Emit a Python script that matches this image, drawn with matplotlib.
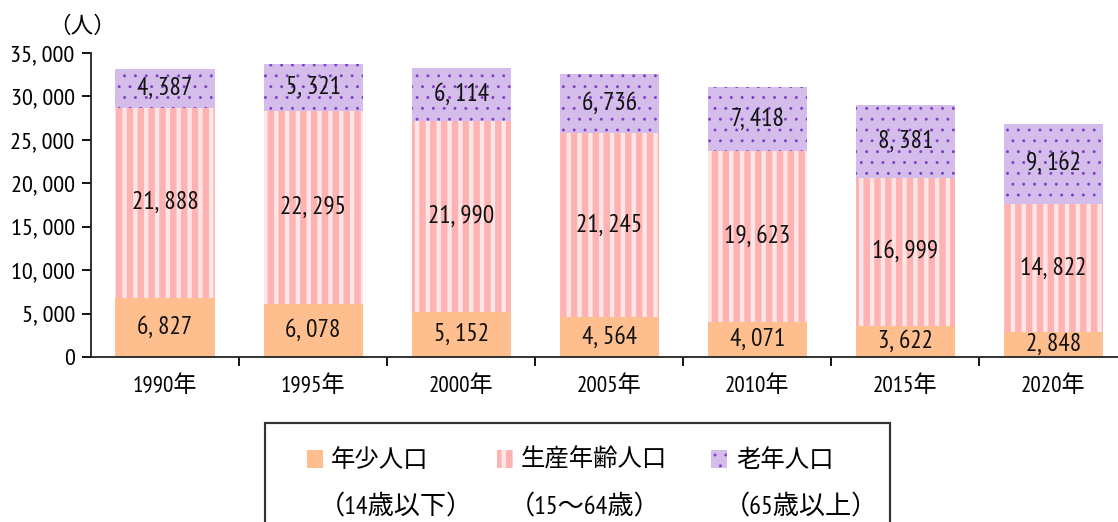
import matplotlib
matplotlib.use("Agg")
import matplotlib.pyplot as plt
from matplotlib.patches import Rectangle
import numpy as np

years = ["1990年", "1995年", "2000年", "2005年", "2010年", "2015年", "2020年"]
young = [6827, 6078, 5152, 4564, 4071, 3622, 2848]
working = [21888, 22295, 21990, 21245, 19623, 16999, 14822]
elderly = [4387, 5321, 6114, 6736, 7418, 8381, 9162]
series_names = ["年少人口", "生産年齢人口", "老年人口"]
series_notes = ["（14歳以下）", "（15～64歳）", "（65歳以上）"]
yticks = [0, 5000, 10000, 15000, 20000, 25000, 30000, 35000]

NUM_FONT = ["PT Sans Narrow", "Noto Sans CJK JP", "DejaVu Sans"]
CJK_FONT = ["Noto Sans CJK JP", "DejaVu Sans"]
plt.rcParams["font.family"] = NUM_FONT

W, H, DPI = 1118, 522, 130
fig = plt.figure(figsize=(W / DPI, H / DPI), dpi=DPI)

def fx(px):
    return px / W

def fy(py):
    return 1 - py / H

left, right, top, bottom = 91, 1127.5, 53, 357
ax = fig.add_axes([fx(left), fy(bottom), fx(right - left), (bottom - top) / H])

x = np.arange(len(years))
bw = 0.67
young_c = "#FFBE8E"
work_face = "#FFB2B2"
work_stripe = "#FFE6E6"
old_face = "#D4BDEA"
old_dot = "#7E3CC6"
STRIPE_LW = 2.4
DOT_LW = 0.4

bars1 = ax.bar(x, young, bw, color=young_c, linewidth=0)
with plt.rc_context({"hatch.linewidth": STRIPE_LW}):
    bars2 = ax.bar(x, working, bw, bottom=young, color=work_face,
                   edgecolor=work_stripe, hatch="||", linewidth=0)
base3 = [a + b for a, b in zip(young, working)]
with plt.rc_context({"hatch.linewidth": DOT_LW}):
    bars3 = ax.bar(x, elderly, bw, bottom=base3, color=old_face,
                   edgecolor=old_dot, hatch="..", linewidth=0)

def fmt(v):
    return f"{v:,}".replace(",", ",\u2009")

for cont, vals in ((bars1, young), (bars2, working), (bars3, elderly)):
    ax.bar_label(cont, labels=[fmt(v) for v in vals], label_type="center",
                 fontsize=14, color="#111111", family=NUM_FONT)

ax.set_xlim(-0.5, len(years) - 0.5)
ax.set_ylim(0, 35000)
ax.set_yticks(yticks)
ax.set_yticklabels([fmt(v) for v in yticks], fontsize=13.5, family=NUM_FONT)
ax.set_xticks(x)
ax.set_xticklabels(years, fontsize=12.8, family=NUM_FONT)
ax.set_xticks(np.arange(len(years)) + 0.5, minor=True)
ax.tick_params(axis="x", which="major", length=0, pad=10)
ax.tick_params(axis="x", which="minor", length=5, direction="out", width=1)
ax.tick_params(axis="y", length=5, direction="out", width=1, pad=4)
for s in ("top", "right"):
    ax.spines[s].set_visible(False)
for s in ("left", "bottom"):
    ax.spines[s].set_linewidth(1)
    ax.spines[s].set_color("#222222")

fig.text(fx(82), fy(26), "（人）", fontsize=12.5, family=CJK_FONT,
         ha="center", va="center")

# legend box
fig.add_artist(Rectangle((fx(265), fy(540)), fx(890 - 265), (540 - 423) / H,
                         transform=fig.transFigure, fill=False,
                         edgecolor="#333333", linewidth=1.2))

legend_styles = [
    dict(facecolor=young_c, edgecolor=young_c, hatch=None, lw=0.5),
    dict(facecolor=work_face, edgecolor=work_stripe, hatch="||", lw=STRIPE_LW),
    dict(facecolor=old_face, edgecolor=old_dot, hatch="..", lw=DOT_LW),
]
patch_x = [307, 497, 711]
text_x = [331, 521, 736]
for i in range(3):
    st = legend_styles[i]
    with plt.rc_context({"hatch.linewidth": st["lw"]}):
        fig.add_artist(Rectangle((fx(patch_x[i]), fy(468)), fx(16), 18 / H,
                                 transform=fig.transFigure,
                                 facecolor=st["facecolor"],
                                 edgecolor=st["edgecolor"],
                                 hatch=st["hatch"], linewidth=0))
    fig.text(fx(text_x[i]), fy(460), series_names[i], fontsize=13.5,
             family=CJK_FONT, ha="left", va="center")
    fig.text(fx(text_x[i] - 12), fy(506), series_notes[i], fontsize=14.5,
             family=NUM_FONT, ha="left", va="center")

fig.savefig("out.png", dpi=DPI)
